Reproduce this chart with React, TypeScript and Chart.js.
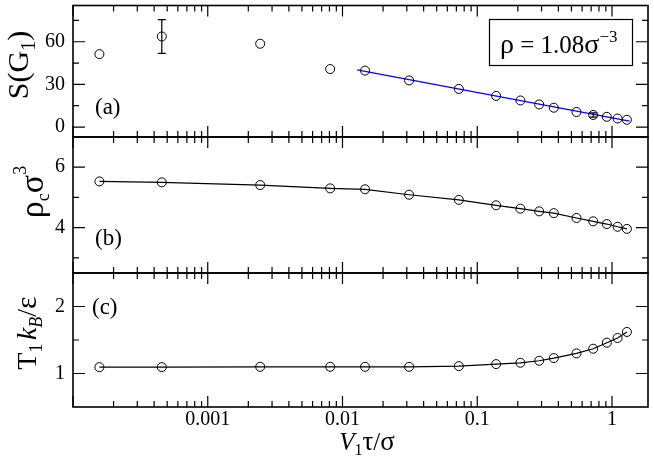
import React, { useEffect, useRef } from "react";
import { Chart, registerables } from "chart.js";

Chart.register(...registerables);

// ---- data ----
const vTau = [1.57e-4, 4.56e-4, 2.45e-3, 8.1e-3, 0.0147, 0.0312, 0.073, 0.138, 0.209, 0.288, 0.37, 0.545, 0.725, 0.915, 1.1, 1.29];
const sG1 = [51.3, 63.7, 58.6, 40.8, 39.7, 32.8, 26.8, 21.9, 18.7, 15.9, 13.6, 10.6, 8.5, 7.2, 6.0, 5.1];
const sG1Err = [0, 11.9, 0, 0, 0, 0, 0, 0, 0, 0, 0, 0, 1.5, 0, 0, 0];
const rhoC = [5.53, 5.5, 5.41, 5.3, 5.27, 5.09, 4.92, 4.74, 4.63, 4.54, 4.48, 4.32, 4.21, 4.12, 4.03, 3.96];
const T1 = [1.095, 1.095, 1.1, 1.1, 1.1, 1.1, 1.11, 1.14, 1.16, 1.19, 1.23, 1.3, 1.37, 1.46, 1.53, 1.62];
const fitX = [0.01285, 1.35];
const fitY = [40.2, 4.15];

const xTickValues = [0.001, 0.01, 0.1, 1];
const xTickLabels = ["0.001", "0.01", "0.1", "1"];
const aMajor = [0, 30, 60];
const aMinor = [15, 45, 75];
const bMajor = [4, 6];
const bMinor = [3, 5];
const cMajor = [1, 2];
const cMinor = [1.5];

// ---- layout ----
const W = 654;
const H = 468;
const LEFT = 73;
const RIGHT_PAD = 6;
const XMIN = 1e-4;
const XMAX = 1.85;
const SERIF = "'Liberation Serif', 'DejaVu Serif', serif";

type Seg = { t: string; size: number; italic?: boolean; dy?: number };

function drawRich(ctx: CanvasRenderingContext2D, segs: Seg[], x: number, y: number, align: "left" | "center", rotate: boolean) {
  ctx.save();
  ctx.translate(x, y);
  if (rotate) ctx.rotate(-Math.PI / 2);
  ctx.fillStyle = "#000";
  ctx.textBaseline = "alphabetic";
  ctx.textAlign = "left";
  const fontOf = (s: Seg) => `${s.italic ? "italic " : ""}${s.size}px ${SERIF}`;
  let total = 0;
  const widths = segs.map((s) => {
    ctx.font = fontOf(s);
    const w = ctx.measureText(s.t).width;
    total += w;
    return w;
  });
  let cur = align === "center" ? -total / 2 : 0;
  segs.forEach((s, i) => {
    ctx.font = fontOf(s);
    ctx.fillText(s.t, cur, s.dy || 0);
    cur += widths[i];
  });
  ctx.restore();
}

type PanelCfg = {
  major: number[];
  minor: number[];
  err?: number[];
  errY?: number[];
  annotate: (ctx: CanvasRenderingContext2D) => void;
};

function makePlugin(cfg: PanelCfg) {
  return {
    id: "panelDeco",
    afterDatasetsDraw(chart: any) {
      if (!cfg.err || !cfg.errY) return;
      const ctx = chart.ctx as CanvasRenderingContext2D;
      const xs = chart.scales.x;
      const ys = chart.scales.y;
      ctx.save();
      ctx.strokeStyle = "#000";
      ctx.lineWidth = 1.2;
      cfg.err.forEach((e, i) => {
        if (!e) return;
        const px = xs.getPixelForValue(vTau[i]);
        const y1 = ys.getPixelForValue(cfg.errY![i] - e);
        const y2 = ys.getPixelForValue(cfg.errY![i] + e);
        ctx.beginPath();
        ctx.moveTo(px, y1);
        ctx.lineTo(px, y2);
        ctx.moveTo(px - 4, y1);
        ctx.lineTo(px + 4, y1);
        ctx.moveTo(px - 4, y2);
        ctx.lineTo(px + 4, y2);
        ctx.stroke();
      });
      ctx.restore();
    },
    afterDraw(chart: any) {
      const ctx = chart.ctx as CanvasRenderingContext2D;
      const a = chart.chartArea;
      const xs = chart.scales.x;
      const ys = chart.scales.y;
      ctx.save();
      ctx.strokeStyle = "#000";
      ctx.lineWidth = 1.2;
      ctx.beginPath();
      for (let e = -4; e <= 0; e++) {
        for (let k = 1; k <= 9; k++) {
          const v = k * Math.pow(10, e);
          if (v < XMIN * 0.999 || v > XMAX) continue;
          const px = xs.getPixelForValue(v);
          const len = k === 1 ? 11 : 6;
          ctx.moveTo(px, a.top);
          ctx.lineTo(px, a.top + len);
          ctx.moveTo(px, a.bottom);
          ctx.lineTo(px, a.bottom - len);
        }
      }
      const yt = (vals: number[], len: number) => {
        vals.forEach((v) => {
          const py = ys.getPixelForValue(v);
          ctx.moveTo(a.left, py);
          ctx.lineTo(a.left + len, py);
          ctx.moveTo(a.right, py);
          ctx.lineTo(a.right - len, py);
        });
      };
      yt(cfg.major, 12);
      yt(cfg.minor, 6);
      ctx.stroke();
      ctx.lineWidth = 1.6;
      ctx.strokeRect(a.left, a.top, a.right - a.left, a.bottom - a.top);
      ctx.restore();
      cfg.annotate(ctx);
    },
  };
}

function makeConfig(panel: "a" | "b" | "c"): any {
  const top = panel === "a" ? 3 : panel === "b" ? 137 : 273;
  const bottom = panel === "a" ? 137 : panel === "b" ? 273 : H;
  const yRange = panel === "a" ? [-7, 85.5] : panel === "b" ? [2.5, 7] : [0.5, 2.5];
  const major = panel === "a" ? aMajor : panel === "b" ? bMajor : cMajor;
  const minor = panel === "a" ? aMinor : panel === "b" ? bMinor : cMinor;
  const values = panel === "a" ? sG1 : panel === "b" ? rhoC : T1;

  const pointStyle = {
    pointRadius: 4.5,
    pointHoverRadius: 4.5,
    pointBorderWidth: 1,
    pointBackgroundColor: "rgba(0,0,0,0)",
    pointBorderColor: "#000",
  };

  const datasets: any[] = [
    {
      data: vTau.map((x, i) => ({ x, y: values[i] })),
      showLine: panel !== "a",
      borderColor: "#000",
      borderWidth: 1.2,
      tension: 0,
      ...pointStyle,
    },
  ];
  if (panel === "a") {
    datasets.push({
      data: fitX.map((x, i) => ({ x, y: fitY[i] })),
      showLine: true,
      borderColor: "#0000ff",
      borderWidth: 1.2,
      pointRadius: 0,
    });
  }

  const annotate = (ctx: CanvasRenderingContext2D) => {
    if (panel === "a") {
      drawRich(ctx, [{ t: "S(G", size: 30 }, { t: "1", size: 20, dy: 7 }, { t: ")", size: 30 }], 28, 65, "center", true);
      drawRich(ctx, [{ t: "(a)", size: 23 }], 95, 114, "left", false);
      ctx.save();
      ctx.strokeStyle = "#000";
      ctx.lineWidth = 1.2;
      ctx.strokeRect(489.5, 19.5, 143, 46);
      ctx.restore();
      drawRich(
        ctx,
        [
          { t: "ρ", size: 28 },
          { t: " = 1.08", size: 25 },
          { t: "σ", size: 28 },
          { t: "−3", size: 17, dy: -11 },
        ],
        500,
        53,
        "left",
        false
      );
    } else if (panel === "b") {
      drawRich(
        ctx,
        [
          { t: "ρ", size: 34 },
          { t: "c", size: 18, dy: 6 },
          { t: "σ", size: 34 },
          { t: "3", size: 18, dy: -17 },
        ],
        43,
        192,
        "center",
        true
      );
      drawRich(ctx, [{ t: "(b)", size: 23 }], 95, 245, "left", false);
    } else {
      drawRich(
        ctx,
        [
          { t: "T", size: 28 },
          { t: "1", size: 18, dy: 6 },
          { t: " ", size: 14 },
          { t: "k", size: 28, italic: true },
          { t: "B", size: 18, italic: true, dy: 6 },
          { t: "/", size: 28 },
          { t: "ε", size: 30 },
        ],
        36,
        333,
        "center",
        true
      );
      drawRich(ctx, [{ t: "(c)", size: 23 }], 92, 314, "left", false);
      drawRich(
        ctx,
        [
          { t: "V", size: 25, italic: true },
          { t: "1", size: 16, dy: 5 },
          { t: "τ", size: 27 },
          { t: "/", size: 25 },
          { t: "σ", size: 27 },
        ],
        367,
        450,
        "center",
        false
      );
    }
  };

  return {
    type: "scatter",
    data: { datasets },
    plugins: [
      makePlugin({
        major,
        minor,
        err: panel === "a" ? sG1Err : undefined,
        errY: panel === "a" ? sG1 : undefined,
        annotate,
      }),
    ],
    options: {
      responsive: false,
      maintainAspectRatio: false,
      animation: false,
      events: [],
      layout: { padding: { left: 0, right: RIGHT_PAD, top, bottom: H - bottom } },
      plugins: { legend: { display: false }, tooltip: { enabled: false }, title: { display: false } },
      scales: {
        x: {
          type: "logarithmic",
          min: XMIN,
          max: XMAX,
          display: panel === "c",
          grid: { display: false, drawTicks: false },
          border: { display: false },
          ticks: {
            color: "#000",
            font: { family: SERIF, size: 20 },
            padding: 1,
            maxRotation: 0,
            autoSkip: false,
            callback: (_v: any, i: number) => xTickLabels[i],
          },
          afterBuildTicks: (s: any) => {
            s.ticks = xTickValues.map((v) => ({ value: v }));
          },
          afterFit: (s: any) => {
            s.height = panel === "c" ? H - 407 : 0;
            s.paddingLeft = 0;
            s.paddingRight = 0;
            s.paddingTop = 0;
            s.paddingBottom = 0;
          },
        },
        y: {
          type: "linear",
          min: yRange[0],
          max: yRange[1],
          grid: { display: false, drawTicks: false },
          border: { display: false },
          ticks: {
            color: "#000",
            font: { family: SERIF, size: 20 },
            padding: 8,
            callback: (v: any) => String(v),
          },
          afterBuildTicks: (s: any) => {
            s.ticks = major.map((v) => ({ value: v }));
          },
          afterFit: (s: any) => {
            s.width = LEFT;
            s.paddingTop = 0;
            s.paddingBottom = 0;
            s.paddingLeft = 0;
            s.paddingRight = 0;
          },
        },
      },
    },
  };
}

function Panel({ panel }: { panel: "a" | "b" | "c" }) {
  const ref = useRef<HTMLCanvasElement | null>(null);
  useEffect(() => {
    if (!ref.current) return;
    const chart = new Chart(ref.current, makeConfig(panel));
    return () => chart.destroy();
  }, [panel]);
  return (
    <canvas
      ref={ref}
      width={W}
      height={H}
      style={{ position: "absolute", left: 0, top: 0, width: W, height: H }}
    />
  );
}

export default function App() {
  return (
    <div style={{ position: "absolute", left: 0, top: 0, width: W, height: H, background: "#fff" }}>
      <Panel panel="a" />
      <Panel panel="b" />
      <Panel panel="c" />
    </div>
  );
}
